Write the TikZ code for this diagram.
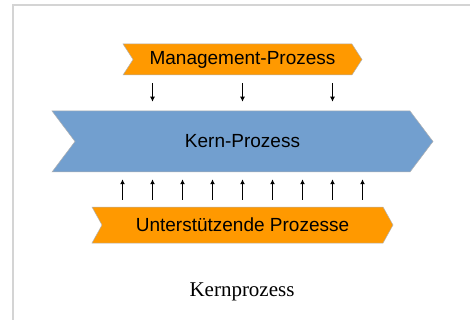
\documentclass[tikz,border=0pt]{standalone}
\usepackage{fontspec}
\setmainfont{Liberation Serif}
\setsansfont{Liberation Sans}
\usetikzlibrary{shapes.symbols,arrows.meta}
\definecolor{procorange}{HTML}{FF9900}
\definecolor{procblue}{HTML}{729FCF}
\definecolor{framegray}{HTML}{D4D4D4}

\begin{document}
\begin{tikzpicture}[x=1pt,y=-1pt,
        proc/.style={shape=signal,signal from=west,signal to=east,
            draw=black!30,line width=0.5pt,inner sep=0pt,
            font=\sffamily\fontsize{19}{19}\selectfont},
        flow/.style={-{Latex[length=5pt,width=5pt]},line width=1.4pt}]
      \useasboundingbox (0,0) rectangle (470,320);
      \draw[framegray,line width=2pt] (13,320) -- (13,5) -- (471,5);
      \node[proc,fill=procorange,minimum width=239pt,minimum height=31pt,
          signal pointer angle=114] (mgmt) at (242.5,59.5) {Management-Prozess};
      \node[proc,fill=procblue,minimum width=381pt,minimum height=61pt,
          signal pointer angle=106] (kern) at (242.5,141.5) {Kern-Prozess};
      \node[proc,fill=procorange,minimum width=301pt,minimum height=36pt,
          signal pointer angle=122] (unter) at (242.5,225) {Unterstützende Prozesse};
      \node[font=\fontsize{21}{21}\selectfont] (caption) at (242,292) {Kernprozess};
      \foreach \dx in {-90,0,90}
        \draw[flow] ([xshift=\dx pt,yshift=-8pt]mgmt.south) -- ([xshift=\dx pt,yshift=9pt]kern.north);
      \foreach \dx in {-120,-90,...,120}
        \draw[flow] ([xshift=\dx pt,yshift=7pt]unter.north) -- ([xshift=\dx pt,yshift=-7pt]kern.south);
    \end{tikzpicture}
\end{document}
